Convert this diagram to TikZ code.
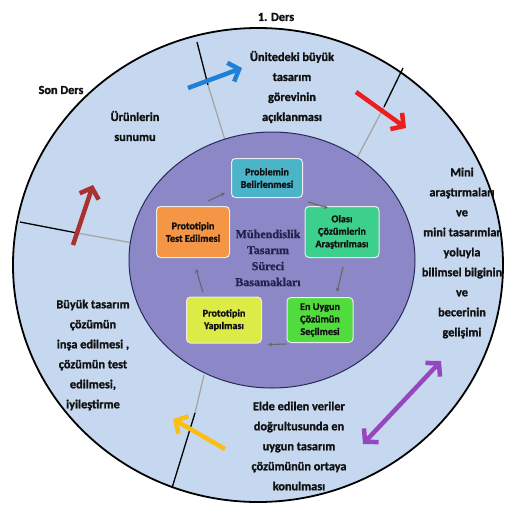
\documentclass[tikz,border=0pt]{standalone}
\usepackage{fontspec}
\setmainfont{Carlito}[BoldFont={Carlito Bold},BoldFeatures={FakeBold=1.3}]
\newfontfamily\slabfont{Liberation Serif}[BoldFont={Liberation Serif Bold},BoldFeatures={FakeBold=1.2}]
\usetikzlibrary{arrows.meta}
\definecolor{outerbg}{HTML}{C5D8EF}
\definecolor{innerbg}{HTML}{8C88C8}
\definecolor{navyline}{HTML}{2A2A5A}
\definecolor{boxA}{HTML}{4BB4C8}
\definecolor{boxB}{HTML}{3CD08C}
\definecolor{boxC}{HTML}{50DC3C}
\definecolor{boxD}{HTML}{DCEB46}
\definecolor{boxE}{HTML}{F59646}
\definecolor{arBlue}{HTML}{1E80D6}
\definecolor{arRed}{HTML}{EE1C1C}
\definecolor{arPurple}{HTML}{9646BE}
\definecolor{arYellow}{HTML}{FBBF14}
\definecolor{arDark}{HTML}{A83232}
\definecolor{txt}{HTML}{111111}
\definecolor{centertxt}{HTML}{22224A}
\tikzset{
  outertext/.style={align=center, text=txt, font=\bfseries\fontsize{12.3}{20}\selectfont, inner sep=0pt},
  stepbox/.style={draw=white!85!gray, line width=1pt, rounded corners=4pt, align=center,
     text=txt, font=\bfseries\fontsize{10.2}{12.5}\selectfont, inner sep=2pt},
  bigarrow/.style={line width=4.5pt, -{Straight Barb[length=9pt,width=20pt,line width=4.5pt]}},
  bigdarrow/.style={line width=4.5pt, {Straight Barb[length=9pt,width=20pt,line width=4.5pt]}-{Straight Barb[length=9pt,width=20pt,line width=4.5pt]}},
  smallarrow/.style={line width=1.1pt, draw=black!60, -{Stealth[length=4pt,width=4pt]}},
  divblack/.style={line width=1.3pt, draw=black},
  divgray/.style={line width=1.3pt, draw=gray!70},
}
\begin{document}
\begin{tikzpicture}[x=1pt,y=-1pt]
\useasboundingbox (0,0) rectangle (512,512);
\fill[white] (0,0) rectangle (512,512);
% outer ring
\draw[line width=1.8pt, fill=outerbg] (258,265) ellipse [x radius=245pt, y radius=237pt];
% dividing lines
\coordinate (o1) at (197,42);  \coordinate (m1) at (208,85);  \coordinate (i1) at (225,140);
\coordinate (o2) at (403,68);  \coordinate (m2) at (384,107); \coordinate (i2) at (357,158);
\coordinate (o3) at (20,222);  \coordinate (m3) at (77,233);  \coordinate (i3) at (133,243);
\coordinate (o4) at (172,488); \coordinate (m4) at (195,413); \coordinate (i4) at (204,375);
\draw[divblack] (o1) -- (m1); \draw[divgray] (m1) -- (i1);
\draw[divblack] (o2) -- (m2); \draw[divgray] (m2) -- (i2);
\draw[divblack] (o3) -- (m3); \draw[divgray] (m3) -- (i3);
\draw[divblack] (o4) -- (m4); \draw[divgray] (m4) -- (i4);
% inner disc
\draw[line width=1pt, draw=navyline, fill=innerbg] (272,260) ellipse [x radius=143pt, y radius=128pt];
% outer labels
\node[outertext] (ders1) at (276,17) {1. Ders};
\node[outertext] (sonders) at (61,90) {Son Ders};
\node[outertext] (t1) at (292,87) {Ünitedeki büyük\\tasarım\\görevinin\\açıklanması};
\node[outertext] (t2) at (462,253) {Mini\\araştırmaları\\ve\\mini tasarımlar\\yoluyla\\bilimsel bilginin\\ve\\becerinin\\gelişimi};
\node[outertext] (t3) at (299,446) {Elde edilen veriler\\doğrultusunda en\\uygun tasarım\\çözümünün ortaya\\konulması};
\node[outertext] (t4) at (93,355) {Büyük tasarım\\çözümün\\inşa edilmesi ,\\çözümün test\\edilmesi,\\iyileştirme};
\node[outertext] (t5) at (135,126) {Ürünlerin\\sunumu};
% big arrows
\coordinate (ba1) at (188,88);  \coordinate (ba2) at (242,68);
\coordinate (ra1) at (356,92);  \coordinate (ra2) at (406,128);
\coordinate (pa1) at (441,361); \coordinate (pa2) at (363,444);
\coordinate (ya1) at (225,449); \coordinate (ya2) at (173,419);
\coordinate (da1) at (73,245);  \coordinate (da2) at (93,185);
\draw[bigarrow, draw=arBlue] (ba1) -- (ba2);
\draw[bigarrow, draw=arRed] (ra1) -- (ra2);
\draw[bigdarrow, draw=arPurple] (pa1) -- (pa2);
\draw[bigarrow, draw=arYellow] (ya1) -- (ya2);
\draw[bigarrow, draw=arDark] (da1) -- (da2);
% step boxes
\node[stepbox, fill=boxA, minimum width=71pt, minimum height=39pt] (s1) at (267,178) {Problemin\\Belirlenmesi};
\node[stepbox, fill=boxB, minimum width=74pt, minimum height=51pt] (s2) at (342,232) {Olası\\Çözümlerin\\Araştırılması};
\node[stepbox, fill=boxC, minimum width=66pt, minimum height=45pt] (s3) at (320,320) {En Uygun\\Çözümün\\Seçilmesi};
\node[stepbox, fill=boxD, minimum width=75pt, minimum height=46pt] (s4) at (224,320) {Prototipin\\Yapılması};
\node[stepbox, fill=boxE, minimum width=73pt, minimum height=51pt] (s5) at (193,232) {Prototipin\\Test Edilmesi};
\node[align=center, text=centertxt, font=\slabfont\bfseries\fontsize{12}{16}\selectfont, inner sep=0pt] (center) at (268,258) {Mühendislik\\Tasarım\\Süreci\\Basamakları};
% small arrows
\draw[smallarrow] ([xshift=5pt,yshift=-4pt]s1.south east) -- ([xshift=-14pt,yshift=-2pt]s2.north);
\draw[smallarrow] ([xshift=1pt,yshift=-9pt]s2.south) -- ([xshift=17pt,yshift=5pt]s3.north);
\draw[smallarrow] ([yshift=-1pt]s3.south west) -- ([xshift=6pt,yshift=-1pt]s4.south east);
\draw[smallarrow] ([xshift=-21pt,yshift=4pt]s4.north) -- ([xshift=3pt,yshift=-11pt]s5.south);
\draw[smallarrow] ([xshift=15pt,yshift=5pt]s5.north) -- ([xshift=-6pt,yshift=-15pt]s1.west);
\end{tikzpicture}
\end{document}
